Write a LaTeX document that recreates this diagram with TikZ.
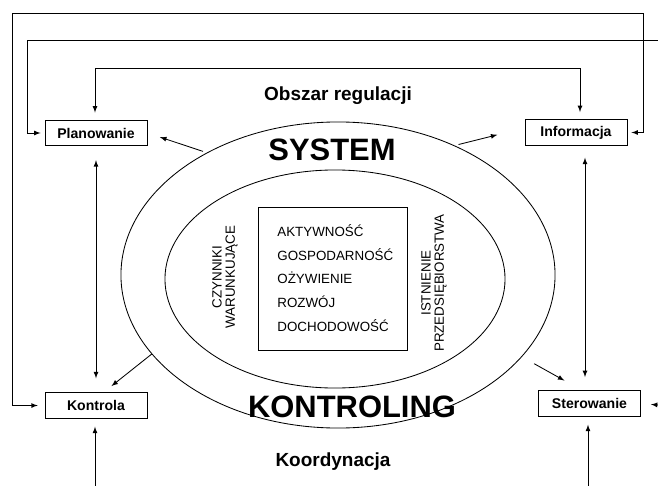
\documentclass[tikz,border=0pt]{standalone}
\usepackage{fontspec}
\setmainfont{Liberation Sans}
\usepackage{tikz}
\usetikzlibrary{shapes.geometric, arrows, positioning}

\begin{document}
\begin{tikzpicture}[x=0.025cm, y=-0.025cm, node distance=6.15cm, >=latex, line width=0.6pt]

        % Define styles
        \tikzstyle{box} = [rectangle, draw, minimum width=2.55cm, minimum height=0.64cm, inner sep=0pt, font=\fontsize{10}{12}\selectfont\bfseries]
        \tikzstyle{ring} = [ellipse, draw, inner sep=0pt]
        \tikzstyle{title} = [font=\fontsize{22}{26}\selectfont\bfseries]
        \tikzstyle{area} = [font=\fontsize{13.5}{16}\selectfont\bfseries]
        \tikzstyle{side} = [rotate=90, align=center, inner sep=0pt, font=\fontsize{9.5}{9.5}\selectfont]
        \tikzstyle{line} = [draw]

        \useasboundingbox (0,0) rectangle (658,486);

        % Place nodes
        \node [ring, minimum width=10.85cm, minimum height=7.65cm] (outer) at (338,275) {};
        \node [ring, minimum width=8.5cm, minimum height=5.45cm] (inner) at (335,279) {};
        \node [rectangle, draw, minimum width=3.725cm, minimum height=3.575cm] (core) at (332.5,278.5) {};
        \node [anchor=west, align=left, inner sep=0pt, font=\fontsize{9.5}{17}\selectfont] (goals) at (277,278) {AKTYWNOŚĆ\\GOSPODARNOŚĆ\\OŻYWIENIE\\ROZWÓJ\\DOCHODOWOŚĆ};
        \node [side] (czynniki) at (225,277) {CZYNNIKI\\WARUNKUJĄCE};
        \node [side] (istnienie) at (434,283) {ISTNIENIE\\PRZEDSIĘBIORSTWA};
        \node [title] (system) at (332,150) {SYSTEM};
        \node [title] (kontroling) at (352,407) {KONTROLING};
        \node [area] (regulacja) at (338,96) {Obszar regulacji};
        \node [area] (koordynacja) at (333,462) {Koordynacja};

        % Functions
        \node [box] (plan) at (96,133) {Planowanie};
        \node [box, below=of plan] (kontrola) {Kontrola};
        \node [box] (info) at (576,132.5) {Informacja};
        \node [box] (ster) at (589.5,403.5) {Sterowanie};

        % Loose ends
        \coordinate (topL) at (12,13);
        \coordinate (topR) at (643,13);
        \coordinate (midL) at (27,40);
        \coordinate (midR) at (658,40);
        \coordinate (lowL) at (95,68);
        \coordinate (lowR) at (580,68);
        \coordinate (sterR) at (658,405);
        \coordinate (botL) at (95,486);
        \coordinate (botR) at (588,486);

        % Draw edges
        \path [line, <->, shorten <=0.17cm, shorten >=0.1cm] (kontrola.west) -| (topL) -- (topR) |- (info.east);
        \path [line, ->, shorten >=0.1cm] (midR) -- (midL) |- (plan.west);
        \path [line, <->, shorten <=0.18cm, shorten >=0.18cm] (plan.north -| lowL) |- (lowR) -- (lowR |- info.north);
        \path [line, <-, shorten <=0.25cm] (ster.east) -- (sterR);
        \path [line, <->, shorten <=0.35cm, shorten >=0.35cm] (plan.south) -- (kontrola.north);
        \path [line, <->, shorten <=0.3cm, shorten >=0.33cm] ([xshift=0.225cm]info.south) -- ([xshift=0.225cm]info.south |- ster.north);
        \path [line, ->, shorten >=0.2cm] (botL) -- (kontrola.south -| botL);
        \path [line, ->, shorten >=0.2cm] (botR) -- (ster.south -| botR);

        % System outputs
        \path [line, ->, shorten <=0.1cm, shorten >=0.33cm] (outer.137) -- (plan.east);
        \path [line, ->, shorten <=0.1cm, shorten >=0.7cm] (outer.48) -- (info.175);
        \path [line, ->, shorten >=0.25cm] (outer.203) -- (kontrola.60);
        \path [line, ->, shorten <=0.35cm, shorten >=0.5cm] (outer.336) -- (ster.120);

\end{tikzpicture}
\end{document}
